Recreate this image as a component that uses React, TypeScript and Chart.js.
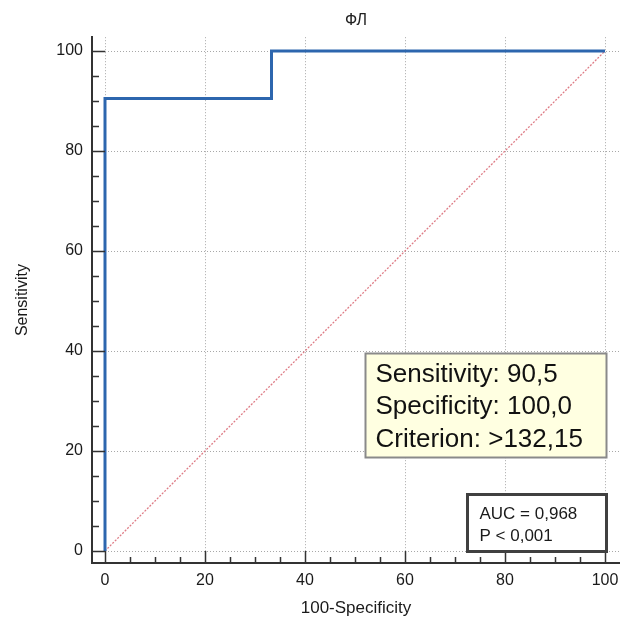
import React, { useEffect, useRef } from "react";
import { Chart, registerables } from "chart.js";

Chart.register(...registerables);

const chartTitle = "ФЛ";
const xTitle = "100-Specificity";
const yTitle = "Sensitivity";
const rocX = [0, 0, 33.3, 33.3, 100];
const rocY = [0, 90.5, 90.5, 100, 100];
const diagX = [0, 100];
const diagY = [0, 100];
const tickValues = [0, 5, 10, 15, 20, 25, 30, 35, 40, 45, 50, 55, 60, 65, 70, 75, 80, 85, 90, 95, 100];
const infoLines = ["Sensitivity: 90,5", "Specificity: 100,0", "Criterion: >132,15"];
const aucLines = ["AUC = 0,968", "P < 0,001"];

const FONT = "'Liberation Sans', Arial, sans-serif";

const tickPlugin = {
  id: "customTicks",
  afterDatasetsDraw(chart: any) {
    const { ctx, scales } = chart;
    const xs = scales.x;
    const ys = scales.y;
    const area = chart.chartArea;
    ctx.save();
    ctx.strokeStyle = "#333";
    ctx.lineWidth = 1.5;
    ctx.beginPath();
    tickValues.forEach((v) => {
      const major = v % 20 === 0;
      const px = Math.round(xs.getPixelForValue(v)) + 0.5;
      const len = major ? area.bottom - ys.getPixelForValue(0) : 6;
      ctx.moveTo(px, area.bottom);
      ctx.lineTo(px, area.bottom - len);
      const py = Math.round(ys.getPixelForValue(v)) + 0.5;
      const lenY = major ? xs.getPixelForValue(0) - area.left : 7;
      ctx.moveTo(area.left, py);
      ctx.lineTo(area.left + lenY, py);
    });
    ctx.stroke();
    ctx.restore();
  },
  afterDraw(chart: any) {
    const { ctx, scales } = chart;
    const xs = scales.x;
    const ys = scales.y;
    ctx.save();
    // info box
    const l = Math.round(xs.getPixelForValue(52)) + 0.5;
    const r = Math.round(xs.getPixelForValue(100.2)) + 0.5;
    const t = Math.round(ys.getPixelForValue(39.6)) + 0.5;
    const b = Math.round(ys.getPixelForValue(18.8)) + 0.5;
    ctx.fillStyle = "#ffffe1";
    ctx.fillRect(l, t, r - l, b - t);
    ctx.strokeStyle = "#8a8a8a";
    ctx.lineWidth = 2;
    ctx.strokeRect(l, t, r - l, b - t);
    ctx.fillStyle = "#111";
    ctx.font = `26px ${FONT}`;
    ctx.textBaseline = "alphabetic";
    ctx.textAlign = "left";
    infoLines.forEach((s, i) => {
      ctx.fillText(s, l + 10, t + 28 + i * 32.5);
    });
    // AUC box
    const l2 = Math.round(xs.getPixelForValue(72.4)) + 0.5;
    const r2 = Math.round(xs.getPixelForValue(100.2)) + 0.5;
    const t2 = Math.round(ys.getPixelForValue(11.4)) + 0.5;
    const b2 = Math.round(ys.getPixelForValue(0)) + 0.5;
    ctx.fillStyle = "#ffffff";
    ctx.fillRect(l2, t2, r2 - l2, b2 - t2);
    ctx.strokeStyle = "#404040";
    ctx.lineWidth = 3;
    ctx.strokeRect(l2, t2, r2 - l2, b2 - t2);
    ctx.fillStyle = "#1a1a1a";
    ctx.font = `17px ${FONT}`;
    aucLines.forEach((s, i) => {
      ctx.fillText(s, l2 + 12, t2 + 24 + i * 22);
    });
    ctx.restore();
  },
};

function setTicks(scale: any) {
  scale.ticks = tickValues.map((v) => ({ value: v }));
}

export default function App() {
  const ref = useRef<HTMLCanvasElement>(null);
  useEffect(() => {
    if (!ref.current) return;
    const gridColor = (c: any) =>
      c.tick && c.tick.value % 20 === 0 ? "#a8a8a8" : "rgba(0,0,0,0)";
    const chart = new Chart(ref.current, {
      type: "line",
      data: {
        datasets: [
          {
            data: rocX.map((x, i) => ({ x, y: rocY[i] })),
            borderColor: "#2d66ae",
            borderWidth: 3,
            pointRadius: 0,
            tension: 0,
            fill: false,
          },
          {
            data: diagX.map((x, i) => ({ x, y: diagY[i] })),
            borderColor: "#de7c86",
            borderWidth: 1.3,
            borderDash: [2, 1.5],
            pointRadius: 0,
            fill: false,
          },
        ],
      },
      options: {
        responsive: false,
        animation: false,
        devicePixelRatio: 1,
        layout: { padding: 0 },
        plugins: {
          legend: { display: false },
          tooltip: { enabled: false },
          title: {
            display: true,
            fullSize: false,
            text: chartTitle,
            color: "#222",
            font: { family: FONT, size: 16, weight: "normal" },
            padding: { top: 11, bottom: 7 },
          },
        },
        scales: {
          x: {
            type: "linear",
            min: -2.6,
            max: 103,
            afterBuildTicks: setTicks,
            afterFit: (s: any) => {
              s.height = 58;
              s.paddingLeft = 0;
              s.paddingRight = 0;
            },
            ticks: {
              autoSkip: false,
              maxRotation: 0,
              padding: 8,
              color: "#1a1a1a",
              font: { family: FONT, size: 16 },
              callback: (v: any) => (Number(v) % 20 === 0 ? String(v) : ""),
            },
            grid: { color: gridColor, drawTicks: false, lineWidth: 1 },
            border: { display: true, color: "#333", width: 2, dash: [1, 2] },
            title: {
              display: true,
              text: xTitle,
              color: "#1a1a1a",
              font: { family: FONT, size: 17 },
              padding: { top: 0, bottom: 2 },
            },
          },
          y: {
            type: "linear",
            min: -2.4,
            max: 102.76,
            afterBuildTicks: setTicks,
            afterFit: (s: any) => {
              s.width = 92;
              s.paddingTop = 0;
              s.paddingBottom = 0;
            },
            ticks: {
              autoSkip: false,
              padding: 9,
              color: "#1a1a1a",
              font: { family: FONT, size: 16 },
              callback: (v: any) => (Number(v) % 20 === 0 ? String(v) : ""),
            },
            grid: { color: gridColor, drawTicks: false, lineWidth: 1 },
            border: { display: true, color: "#333", width: 2, dash: [1, 2] },
            title: {
              display: true,
              text: yTitle,
              color: "#1a1a1a",
              font: { family: FONT, size: 16 },
              padding: { top: 13, bottom: 0 },
            },
          },
        },
      },
      plugins: [tickPlugin],
    } as any);
    return () => chart.destroy();
  }, []);
  return (
    <div style={{ position: "fixed", left: 0, top: 0, width: 620, height: 621, background: "#fff" }}>
      <canvas ref={ref} width={620} height={621} style={{ display: "block" }} />
    </div>
  );
}
